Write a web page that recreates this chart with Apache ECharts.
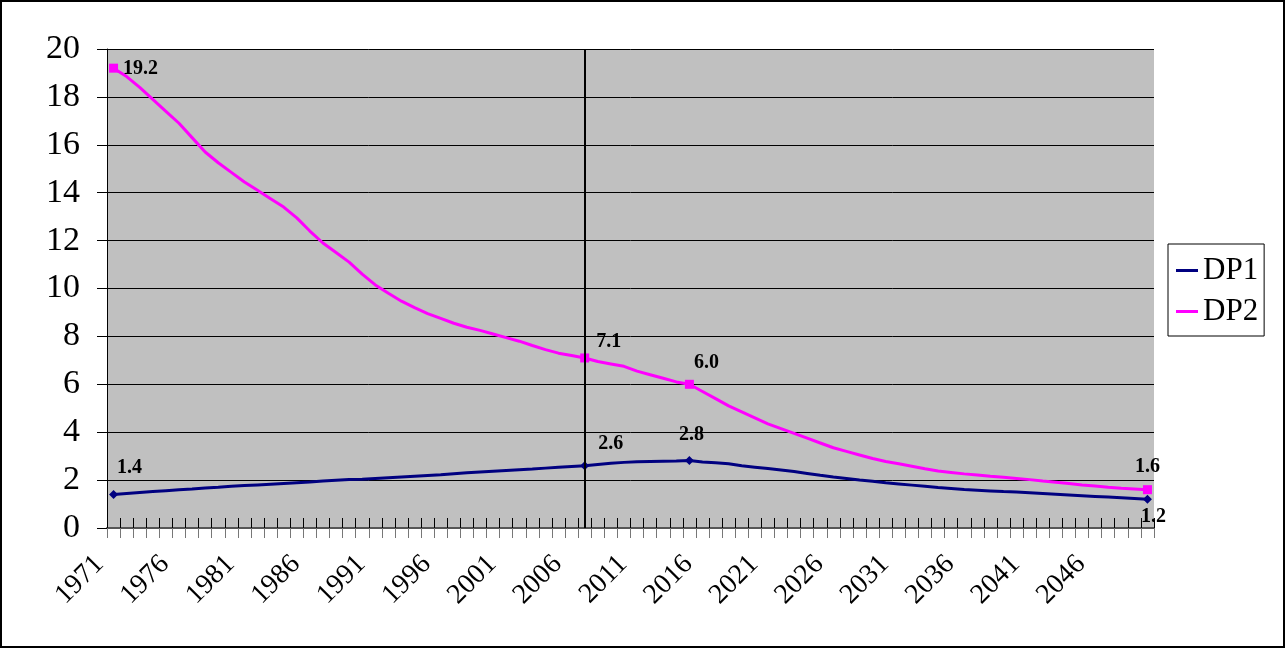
<!DOCTYPE html>
<html><head><meta charset="utf-8">
<script src="https://cdn.jsdelivr.net/npm/echarts@6/dist/echarts.min.js"></script>
<style>
html,body{margin:0;padding:0;background:#fff;}
#frame{position:absolute;left:0;top:0;width:1281px;height:644px;border:2px solid #000;background:#fff;}
#chart{position:absolute;left:0;top:0;width:1281px;height:644px;}
</style></head>
<body><div id="frame"><div id="chart"></div></div>
<script>
// Years 1971..2050
const years = [];
for (let y = 1971; y <= 2050; y++) years.push(String(y));

const dp1 = [1.4,1.44,1.48,1.52,1.56,1.6,1.63,1.67,1.7,1.74,
  1.77,1.8,1.83,1.86,1.89,1.92,1.96,1.99,2.02,2.04,
  2.07,2.1,2.13,2.16,2.19,2.22,2.27,2.31,2.34,2.37,
  2.4,2.43,2.46,2.5,2.54,2.57,2.6,2.65,2.7,2.74,
  2.77,2.78,2.79,2.8,2.82,2.76,2.72,2.68,2.6,2.54,
  2.48,2.42,2.36,2.28,2.2,2.13,2.07,2.0,1.95,1.89,
  1.84,1.79,1.74,1.69,1.65,1.61,1.58,1.55,1.52,1.5,
  1.47,1.44,1.41,1.38,1.35,1.32,1.29,1.26,1.23,1.2];

const dp2 = [19.2,18.85,18.4,17.9,17.4,16.9,16.3,15.7,15.25,14.85,
  14.45,14.1,13.75,13.4,12.95,12.4,11.9,11.5,11.1,10.6,
  10.15,9.8,9.47,9.2,8.95,8.75,8.55,8.38,8.25,8.1,
  7.95,7.8,7.62,7.45,7.3,7.2,7.1,6.95,6.85,6.75,
  6.55,6.4,6.25,6.1,6.0,5.7,5.4,5.1,4.85,4.6,
  4.35,4.15,3.95,3.75,3.55,3.35,3.2,3.05,2.9,2.78,
  2.68,2.58,2.47,2.38,2.32,2.26,2.21,2.16,2.12,2.07,
  2.02,1.96,1.91,1.86,1.8,1.75,1.7,1.66,1.63,1.6];

const yTicks = [0,2,4,6,8,10,12,14,16,18,20];
const markedIdx = [0, 36, 44, 79];
const markerYear = '2007';

const serif = '"Liberation Serif","Times New Roman",serif';
const lblStyle = {show:true, fontFamily:serif, fontWeight:'bold', fontSize:20, color:'#000',
  formatter: p => Number(p.value).toFixed(1)};

const dp1Labels = {0:{position:'top',offset:[16,-7]},36:{position:'top',offset:[26,-2]},44:{position:'top',offset:[2,-6]},79:{position:'bottom',offset:[6,-2]}};
const dp2Labels = {0:{position:'right',offset:[0,1]},36:{position:'top',offset:[24,3]},44:{position:'top',offset:[17,-2]},79:{position:'top',offset:[0,-3]}};

function build(vals, sym, size, lbls){
  return vals.map((v,i)=>{
    if (markedIdx.indexOf(i) >= 0) {
      return {value:v, symbol:sym, symbolSize:size, label:Object.assign({}, lblStyle, lbls[i])};
    }
    return v;
  });
}

const chart = echarts.init(document.getElementById('chart'));
chart.setOption({
  animation:false,
  grid:[
    {left:105, right:129, top:47, bottom:118, show:true, backgroundColor:'#C0C0C0', borderWidth:0},
    // label-only grid (same width, nudged left) for the slanted year labels
    {left:91, right:143, top:47, bottom:118, show:false}
  ],
  legend:{
    orient:'vertical', left:1166, top:242,
    borderColor:'#000', borderWidth:1, padding:[11,6,9,8], itemGap:10,
    itemWidth:22, itemHeight:3, icon:'rect',
    textStyle:{fontFamily:serif, fontSize:31, color:'#000', width:66},
    data:['DP1','DP2']
  },
  xAxis:[{
    type:'category', data:years, boundaryGap:true, gridIndex:0,
    axisLine:{lineStyle:{color:'#555', width:2}},
    axisTick:{show:true, inside:true, length:10, interval:0, lineStyle:{color:'#000', width:1}},
    axisLabel:{show:false},
    splitLine:{show:false}
  },{
    type:'category', data:years, boundaryGap:true, position:'bottom', gridIndex:0,
    axisLine:{show:false},
    axisTick:{show:true, inside:false, length:10, interval:0, lineStyle:{color:'#777', width:1}},
    axisLabel:{show:false}
  },{
    type:'category', data:years, boundaryGap:true, position:'bottom', gridIndex:1,
    axisLine:{show:false}, axisTick:{show:false},
    axisLabel:{interval:4, rotate:45, fontFamily:serif, fontSize:28, color:'#000', margin:32}
  }],
  yAxis:[{
    type:'value', min:0, max:20, interval:2, gridIndex:0,
    axisLine:{show:true, lineStyle:{color:'#000', width:1}},
    axisTick:{show:true, length:10, lineStyle:{color:'#000'}},
    axisLabel:{fontFamily:serif, fontSize:34, color:'#000', margin:27,
      formatter: v => yTicks.indexOf(v) >= 0 ? String(v) : ''},
    splitLine:{show:true, lineStyle:{color:'#000', width:1}}
  },{
    type:'value', min:0, max:20, interval:2, gridIndex:1, show:false
  }],
  series:[{
    name:'DP1', type:'line', data:build(dp1,'diamond',9,dp1Labels),
    symbol:'none', showSymbol:true, showAllSymbol:true,
    itemStyle:{color:'#000080'}, lineStyle:{color:'#000080', width:3},
    z:3
  },{
    name:'DP2', type:'line', data:build(dp2,'rect',9,dp2Labels),
    symbol:'none', showSymbol:true, showAllSymbol:true,
    itemStyle:{color:'#FF00FF'}, lineStyle:{color:'#FF00FF', width:3},
    z:4,
    markLine:{silent:true, symbol:'none', label:{show:false},
      lineStyle:{color:'#000', width:2, type:'solid'},
      data:[{xAxis:markerYear}]}
  }]
});
</script></body></html>
